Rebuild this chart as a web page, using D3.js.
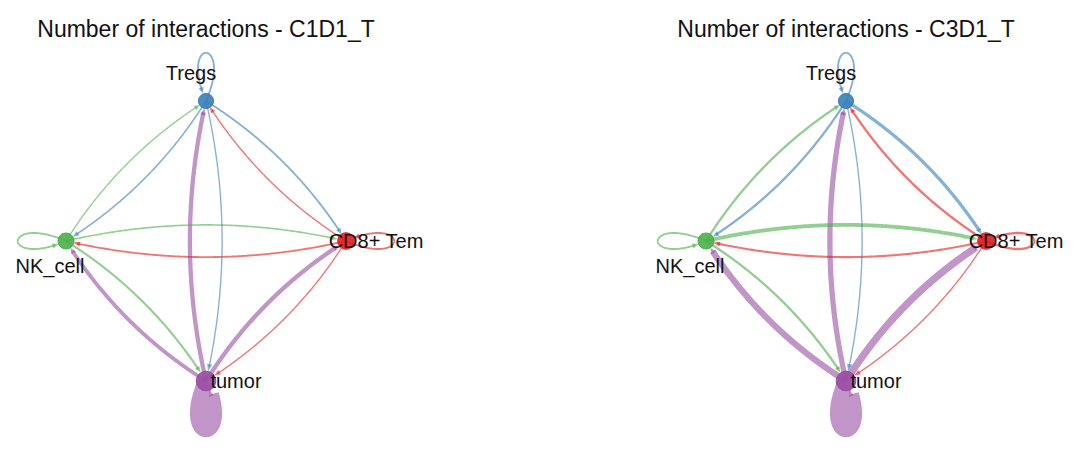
<!DOCTYPE html>
<html>
<head>
<meta charset='utf-8'>
<title>Number of interactions</title>
<style>
body { margin: 0; background: #fff; }
text { font-family: 'Liberation Sans', Arial, sans-serif; fill: #111; }
</style>
<script src='https://d3js.org/d3.v7.min.js'></script>
</head>
<body>
<div id="container"></div>
<script>
// ******* Data *******
// cell groups in igraph circle order (starts at the right, goes counter-clockwise)
const cellTypes = ["CD8+ Tem", "Tregs", "NK_cell", "tumor"];
const cellColors = ["#E41A1C", "#377EB8", "#4DAF4A", "#984EA3"];
const cellCounts = [300, 250, 280, 420];
const datasets = ["C1D1_T", "C3D1_T"];
// number of interactions, rows = sender, columns = receiver (same order as cellTypes)
const countsC1D1 = [
  [6, 4, 6, 4],
  [6, 6, 5, 4],
  [5, 4, 6, 7],
  [16, 16, 14, 64]
];
const countsC3D1 = [
  [8, 8, 7, 4],
  [12, 6, 8, 4],
  [14, 8, 6, 8],
  [28, 20, 24, 64]
];
const allCounts = [countsC1D1, countsC3D1];

// ******* Constants *******
const width = 1080, height = 454;
const panelX = [206, 846], panelY = 241, layoutR = 140;
const curveK = 0.115;
const arrowLen = 6, arrowHalf = 2.6;
// label placement relative to each node
const labelOffsets = [
  {dx: 30, dy: 7},
  {dx: -15, dy: -21},
  {dx: -16, dy: 32},
  {dx: 30, dy: 7}
];

const svg = d3.select("#container").append("svg")
  .attr("width", width)
  .attr("height", height);

const angleScale = d3.scaleLinear().domain([0, cellTypes.length]).range([0, 2 * Math.PI]);
const widthScale = d3.scaleLinear().domain([0, 64]).range([0.4, 16]);
const radiusScale = d3.scaleSqrt().domain([0, d3.max(cellCounts)]).range([0, 9.8]);

function quad(p0, c, p1, t) {
  const u = 1 - t;
  return [u * u * p0[0] + 2 * u * t * c[0] + t * t * p1[0],
          u * u * p0[1] + 2 * u * t * c[1] + t * t * p1[1]];
}
function cubic(p0, c1, c2, p1, t) {
  const u = 1 - t;
  return [u * u * u * p0[0] + 3 * u * u * t * c1[0] + 3 * u * t * t * c2[0] + t * t * t * p1[0],
          u * u * u * p0[1] + 3 * u * u * t * c1[1] + 3 * u * t * t * c2[1] + t * t * t * p1[1]];
}
const dist = (a, b) => Math.hypot(a[0] - b[0], a[1] - b[1]);

// cut a sampled curve so it stops at the target circle; returns line points and arrow
function trimCurve(pts, center, r, startIdx) {
  let tipI = pts.length - 1;
  for (let i = startIdx; i < pts.length; i++) {
    if (dist(pts[i], center) <= r) { tipI = i; break; }
  }
  const tip = pts[tipI];
  let baseI = tipI;
  while (baseI > 0 && dist(pts[baseI], tip) < arrowLen) baseI--;
  const base = pts[baseI];
  let lineI = tipI;
  while (lineI > 0 && dist(pts[lineI], tip) < arrowLen * 0.6) lineI--;
  const ux = (tip[0] - base[0]) / dist(tip, base), uy = (tip[1] - base[1]) / dist(tip, base);
  const arrow = [tip, [base[0] - uy * arrowHalf, base[1] + ux * arrowHalf],
                 [base[0] + uy * arrowHalf, base[1] - ux * arrowHalf]];
  return {line: pts.slice(0, lineI + 1), arrow: arrow};
}

const line = d3.line();

datasets.forEach(function(name, p) {
  const counts = allCounts[p];
  const cx = panelX[p];
  const g = svg.append("g");

  const nodes = cellTypes.map(function(c, i) {
    const a = angleScale(i);
    return {name: c, i: i, a: a, color: cellColors[i], r: radiusScale(cellCounts[i]),
            x: cx + layoutR * Math.cos(a), y: panelY - layoutR * Math.sin(a)};
  });

  // edges
  const edges = [];
  counts.forEach(function(row, s) {
    row.forEach(function(v, t) { if (v > 0) edges.push({s: s, t: t, v: v}); });
  });
  edges.sort((a, b) => b.v - a.v);

  edges.forEach(function(e) {
    const src = nodes[e.s], tgt = nodes[e.t];
    const p0 = [src.x, src.y], p1 = [tgt.x, tgt.y];
    let pts = [];
    if (e.s !== e.t) {
      const dx = p1[0] - p0[0], dy = p1[1] - p0[1], d = Math.hypot(dx, dy);
      const c = [(p0[0] + p1[0]) / 2 + dy / d * curveK * d, (p0[1] + p1[1]) / 2 - dx / d * curveK * d];
      for (let k = 0; k <= 200; k++) pts.push(quad(p0, c, p1, k / 200));
    } else {
      const dir = [Math.cos(src.a), -Math.sin(src.a)];
      const D = 70, th = 23.4 * Math.PI / 180;
      const rot = (v, t) => [v[0] * Math.cos(t) - v[1] * Math.sin(t), v[0] * Math.sin(t) + v[1] * Math.cos(t)];
      const r1 = rot(dir, th), r2 = rot(dir, -th);
      const c1 = [p0[0] + D * r1[0], p0[1] + D * r1[1]], c2 = [p0[0] + D * r2[0], p0[1] + D * r2[1]];
      for (let k = 0; k <= 200; k++) pts.push(cubic(p0, c1, c2, p0, k / 200));
    }
    const trimmed = trimCurve(pts, p1, tgt.r + 0.5, 100);
    g.append("path")
      .attr("d", line(trimmed.line))
      .attr("fill", "none")
      .attr("stroke", src.color)
      .attr("stroke-opacity", 0.6)
      .attr("stroke-width", widthScale(e.v))
      .attr("stroke-linecap", "butt");
    g.append("path")
      .attr("d", line(trimmed.arrow) + "Z")
      .attr("fill", src.color)
      .attr("fill-opacity", 0.6);
  });

  // nodes
  g.selectAll("circle")
    .data(nodes)
    .enter()
    .append("circle")
    .attr("cx", d => d.x)
    .attr("cy", d => d.y)
    .attr("r", d => d.r)
    .attr("fill", d => d.color)
    .attr("fill-opacity", 0.9)
    .attr("stroke", d => d.color);

  // node labels
  g.selectAll("text.lab")
    .data(nodes)
    .enter()
    .append("text")
    .attr("class", "lab")
    .attr("x", d => d.x + labelOffsets[d.i].dx)
    .attr("y", d => d.y + labelOffsets[d.i].dy)
    .attr("text-anchor", "middle")
    .style("font-size", "20px")
    .text(d => d.name);

  // title
  g.append("text")
    .attr("x", cx)
    .attr("y", 37)
    .attr("text-anchor", "middle")
    .style("font-size", "23px")
    .text("Number of interactions - " + name);
});
</script>
</body>
</html>
